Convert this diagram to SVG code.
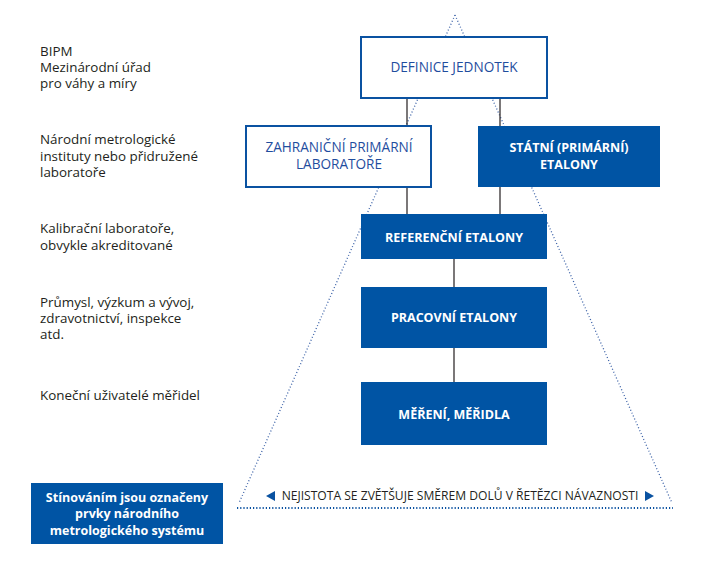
<svg xmlns="http://www.w3.org/2000/svg" width="711" height="576" viewBox="0 0 711 576">
<style>
.lbl{font-family:"Open Sans","Noto Sans","Liberation Sans",sans-serif;font-size:13.4px;fill:#231f20}
.bt{font-family:"Open Sans","Noto Sans","Liberation Sans",sans-serif;font-size:12.5px;text-anchor:middle}
.ob{fill:#fff;stroke:#0a52a1;stroke-width:2}
.fb{fill:#0054a4}
.bl{fill:#1f4d9e;font-size:13.6px}
.wh{fill:#fff;font-weight:bold}
.dot{stroke:#3d63a8;stroke-width:1.3;stroke-dasharray:1 2.2;fill:none}
.con{stroke:#231f20;stroke-width:1.2;fill:none}
</style>
<rect width="711" height="576" fill="#fff"/>
<g id="triangle">
<path class="dot" d="M455,15 L239,503 M455,15 L672,503"/>
<path d="M237,508 H673" stroke="#0a52a1" stroke-width="1.8" stroke-dasharray="1.2 2" fill="none"/>
</g>
<g id="connectors">
<path class="con" d="M407,98 V126 M500,98 V126 M407,187 V214 M500,187 V214 M454,259 V287 M454,348 V382"/>
</g>
<g id="levels">
<text class="lbl" x="40" y="56">BIPM</text>
<text class="lbl" x="40" y="72">Mezinárodní úřad</text>
<text class="lbl" x="40" y="88">pro váhy a míry</text>
<text class="lbl" x="40" y="144">Národní metrologické</text>
<text class="lbl" x="40" y="161">instituty nebo přidružené</text>
<text class="lbl" x="40" y="177">laboratoře</text>
<text class="lbl" x="40" y="233">Kalibrační laboratoře,</text>
<text class="lbl" x="40" y="250">obvykle akreditované</text>
<text class="lbl" x="40" y="307">Průmysl, výzkum a vývoj,</text>
<text class="lbl" x="40" y="323">zdravotnictví, inspekce</text>
<text class="lbl" x="40" y="339">atd.</text>
<text class="lbl" x="40" y="400">Koneční uživatelé měřidel</text>
</g>
<g id="definice">
<rect class="ob" x="361" y="37" width="186" height="61"/>
<text class="bt bl" x="454" y="72">DEFINICE JEDNOTEK</text>
</g>
<g id="zahranicni">
<rect class="ob" x="246" y="126" width="185" height="61"/>
<text class="bt bl" x="339" y="152">ZAHRANIČNÍ PRIMÁRNÍ</text>
<text class="bt bl" x="339" y="169">LABORATOŘE</text>
</g>
<g id="statni">
<rect class="fb" x="478" y="126" width="182" height="61"/>
<text class="bt wh" x="569" y="152">STÁTNÍ (PRIMÁRNÍ)</text>
<text class="bt wh" x="569" y="169">ETALONY</text>
</g>
<g id="referencni">
<rect class="fb" x="361" y="214" width="186" height="45"/>
<text class="bt wh" x="454" y="242">REFERENČNÍ ETALONY</text>
</g>
<g id="pracovni">
<rect class="fb" x="361" y="287" width="186" height="61"/>
<text class="bt wh" x="454" y="322">PRACOVNÍ ETALONY</text>
</g>
<g id="mereni">
<rect class="fb" x="361" y="382" width="186" height="63"/>
<text class="bt wh" x="454" y="419">MĚŘENÍ, MĚŘIDLA</text>
</g>
<g id="nejistota">
<polygon points="266,496 275,491 275,501" fill="#0a52a1"/>
<polygon points="654,496 645,491 645,501" fill="#0a52a1"/>
<text class="bt" x="460" y="500" style="font-size:12.1px;fill:#231f20">NEJISTOTA SE ZVĚTŠUJE SMĚREM DOLŮ V ŘETĚZCI NÁVAZNOSTI</text>
</g>
<g id="legend">
<rect class="fb" x="31" y="483" width="192" height="61"/>
<text class="bt wh" x="127" y="502">Stínováním jsou označeny</text>
<text class="bt wh" x="127" y="518">prvky národního</text>
<text class="bt wh" x="127" y="535">metrologického systému</text>
</g>
</svg>
